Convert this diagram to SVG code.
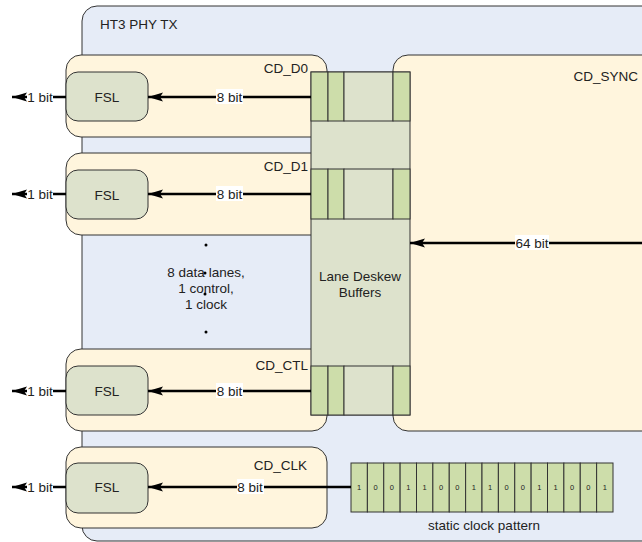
<svg xmlns="http://www.w3.org/2000/svg" width="642" height="542" viewBox="0 0 642 542">
<defs>
<marker id="ah" markerUnits="userSpaceOnUse" markerWidth="16" markerHeight="12" viewBox="0 0 16 12" refX="15" refY="6" orient="auto">
<path d="M0,1.5 L15,6 L0,10.5 L3,6 z" fill="#000"/>
</marker>
</defs>
<style>
text{font-family:"Liberation Sans",Arial,sans-serif;font-size:13.5px;fill:#222}
.outer{fill:#E6ECF7;stroke:#333;stroke-width:1}
.cd{fill:#FFF5DD;stroke:#333;stroke-width:1}
.fsl{fill:#DDE2CC;stroke:#333;stroke-width:1}
.buf{fill:#DDE2CC;stroke:#333;stroke-width:1}
.cell{fill:#CDDDAA;stroke:#333;stroke-width:1}
.arr{stroke:#000;stroke-width:2.5;fill:none;marker-end:url(#ah)}
.lbg{fill:#fff}
.mid{text-anchor:middle}
.end{text-anchor:end}
.dig{font-size:7.5px;text-anchor:middle}
</style>

<g id="ht3_phy_tx">
<rect class="outer" x="82" y="6" width="600" height="535" rx="15"/>
<text x="100" y="29">HT3 PHY TX</text>
</g>

<g id="cd_sync">
<rect class="cd" x="393" y="55" width="270" height="376" rx="15"/>
<text class="end" x="638" y="81">CD_SYNC</text>
</g>

<g id="cd_d0">
<rect class="cd" x="66" y="55" width="261" height="82" rx="15"/>
<text class="end" x="308" y="73">CD_D0</text>
<rect class="fsl" x="66" y="72" width="82" height="49" rx="12"/>
<text class="mid" x="107" y="101.5">FSL</text>
</g>

<g id="cd_d1">
<rect class="cd" x="66" y="153" width="261" height="82" rx="15"/>
<text class="end" x="308" y="171">CD_D1</text>
<rect class="fsl" x="66" y="170" width="82" height="49" rx="12"/>
<text class="mid" x="107" y="199.5">FSL</text>
</g>

<g id="cd_ctl">
<rect class="cd" x="66" y="349" width="261" height="82" rx="15"/>
<text class="end" x="308" y="370">CD_CTL</text>
<rect class="fsl" x="66" y="366" width="82" height="49" rx="12"/>
<text class="mid" x="107" y="395.5">FSL</text>
</g>

<g id="cd_clk">
<rect class="cd" x="66" y="447" width="261" height="81" rx="15"/>
<text class="end" x="307" y="470">CD_CLK</text>
<rect class="fsl" x="66" y="463" width="82" height="50" rx="12"/>
<text class="mid" x="107" y="492">FSL</text>
</g>

<g id="lanes_note">
<circle cx="206" cy="245" r="1.5" fill="#000"/>
<circle cx="205" cy="273" r="1.5" fill="#000"/>
<circle cx="205" cy="294" r="1.5" fill="#000"/>
<circle cx="206" cy="332" r="1.5" fill="#000"/>
<text class="mid" x="206" y="277">8 data lanes,</text>
<text class="mid" x="206" y="293">1 control,</text>
<text class="mid" x="206" y="309">1 clock</text>
</g>

<g id="lane_deskew_buffers">
<rect class="buf" x="311" y="72" width="99" height="343"/>
<g>
<rect class="cell" x="311" y="72" width="17" height="49"/>
<rect class="cell" x="328" y="72" width="16" height="49"/>
<rect class="buf" x="344" y="72" width="49" height="49"/>
<rect class="cell" x="393" y="72" width="17" height="49"/>
</g>
<g>
<rect class="cell" x="311" y="169" width="17" height="50"/>
<rect class="cell" x="328" y="169" width="16" height="50"/>
<rect class="buf" x="344" y="169" width="49" height="50"/>
<rect class="cell" x="393" y="169" width="17" height="50"/>
</g>
<g>
<rect class="cell" x="311" y="366" width="17" height="49"/>
<rect class="cell" x="328" y="366" width="16" height="49"/>
<rect class="buf" x="344" y="366" width="49" height="49"/>
<rect class="cell" x="393" y="366" width="17" height="49"/>
</g>
<text class="mid" x="360" y="281">Lane Deskew</text>
<text class="mid" x="360" y="297">Buffers</text>
</g>

<g id="clock_pattern">
<rect class="cell" x="351" y="463" width="16.375" height="49"/>
<rect class="cell" x="367.375" y="463" width="16.375" height="49"/>
<rect class="cell" x="383.75" y="463" width="16.375" height="49"/>
<rect class="cell" x="400.125" y="463" width="16.375" height="49"/>
<rect class="cell" x="416.5" y="463" width="16.375" height="49"/>
<rect class="cell" x="432.875" y="463" width="16.375" height="49"/>
<rect class="cell" x="449.25" y="463" width="16.375" height="49"/>
<rect class="cell" x="465.625" y="463" width="16.375" height="49"/>
<rect class="cell" x="482" y="463" width="16.375" height="49"/>
<rect class="cell" x="498.375" y="463" width="16.375" height="49"/>
<rect class="cell" x="514.75" y="463" width="16.375" height="49"/>
<rect class="cell" x="531.125" y="463" width="16.375" height="49"/>
<rect class="cell" x="547.5" y="463" width="16.375" height="49"/>
<rect class="cell" x="563.875" y="463" width="16.375" height="49"/>
<rect class="cell" x="580.25" y="463" width="16.375" height="49"/>
<rect class="cell" x="596.625" y="463" width="16.375" height="49"/>
<text class="dig" x="359.2" y="490">1</text>
<text class="dig" x="375.6" y="490">0</text>
<text class="dig" x="391.9" y="490">0</text>
<text class="dig" x="408.3" y="490">1</text>
<text class="dig" x="424.7" y="490">1</text>
<text class="dig" x="441.1" y="490">0</text>
<text class="dig" x="457.4" y="490">0</text>
<text class="dig" x="473.8" y="490">1</text>
<text class="dig" x="490.2" y="490">1</text>
<text class="dig" x="506.6" y="490">0</text>
<text class="dig" x="522.9" y="490">0</text>
<text class="dig" x="539.3" y="490">1</text>
<text class="dig" x="555.7" y="490">1</text>
<text class="dig" x="572.1" y="490">0</text>
<text class="dig" x="588.4" y="490">0</text>
<text class="dig" x="604.8" y="490">1</text>
<text class="mid" x="484" y="530">static clock pattern</text>
</g>

<g id="connectors">
<path class="arr" d="M311,97 H148"/>
<path class="arr" d="M311,194 H148"/>
<path class="arr" d="M311,391 H148"/>
<path class="arr" d="M351,487 H148"/>
<path class="arr" d="M642,243 H410"/>
<path class="arr" d="M66,97 H12"/>
<path class="arr" d="M66,194 H12"/>
<path class="arr" d="M66,391 H12"/>
<path class="arr" d="M66,487 H12"/>
<rect class="lbg" x="216" y="89" width="27" height="15"/>
<text class="mid" x="229.5" y="101.5">8 bit</text>
<rect class="lbg" x="216" y="186" width="27" height="15"/>
<text class="mid" x="229.5" y="198.5">8 bit</text>
<rect class="lbg" x="216" y="383" width="27" height="15"/>
<text class="mid" x="229.5" y="395.5">8 bit</text>
<rect class="lbg" x="237" y="479" width="27" height="15"/>
<text class="mid" x="250" y="491.5">8 bit</text>
<rect class="lbg" x="515" y="235" width="34" height="15"/>
<text class="mid" x="532" y="247.5">64 bit</text>
<rect class="lbg" x="27" y="89" width="26" height="15"/>
<text class="mid" x="40" y="101.5">1 bit</text>
<rect class="lbg" x="27" y="186" width="26" height="15"/>
<text class="mid" x="40" y="198.5">1 bit</text>
<rect class="lbg" x="27" y="383" width="26" height="15"/>
<text class="mid" x="40" y="395.5">1 bit</text>
<rect class="lbg" x="27" y="479" width="26" height="15"/>
<text class="mid" x="40" y="491.5">1 bit</text>
</g>
</svg>
